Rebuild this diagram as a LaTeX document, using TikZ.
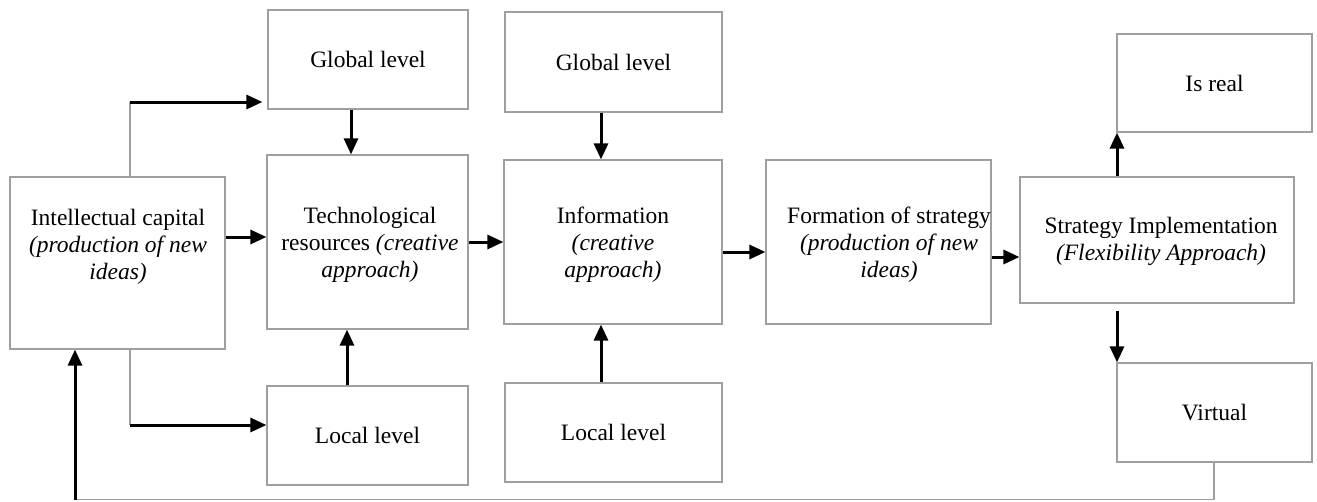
\documentclass[tikz,border=0pt]{standalone}
\usepackage{fontspec}
\setmainfont{Liberation Serif}
\usetikzlibrary{arrows.meta}
\begin{document}
\begin{tikzpicture}[x=1pt,y=-1pt,
  box/.style={draw=gray!75, line width=1.2pt, inner sep=0pt, font=\fontsize{23.5}{27}\selectfont},
  txt/.style={inner sep=0pt, align=center, font=\fontsize{23.5}{27}\selectfont},
  arr/.style={line width=3pt, -{Triangle[length=16pt,width=14pt]}},
  thinline/.style={draw=gray!75, line width=1.2pt}]
\useasboundingbox (0,0) rectangle (1317,501);
% boxes
\node[box, minimum width=215pt, minimum height=172pt] (ic) at (117.5,263) {};
\node[box, minimum width=200pt, minimum height=99pt] (g1) at (368,59.5) {Global level};
\node[box, minimum width=201pt, minimum height=174pt] (tech) at (367.5,242) {};
\node[box, minimum width=201pt, minimum height=99pt] (l1) at (367.5,435.5) {Local level};
\node[box, minimum width=217pt, minimum height=100pt] (g2) at (613.5,62) {Global level};
\node[box, minimum width=218pt, minimum height=164pt] (info) at (613,242) {};
\node[box, minimum width=217pt, minimum height=99pt] (l2) at (613.5,432.5) {Local level};
\node[box, minimum width=225pt, minimum height=164pt] (form) at (878.5,242) {};
\node[box, minimum width=274pt, minimum height=126pt] (si) at (1157,240) {};
\node[box, minimum width=195pt, minimum height=98pt] (real) at (1214.5,83) {Is real};
\node[box, minimum width=195pt, minimum height=99pt] (virt) at (1214.5,412.5) {Virtual};
% texts
\node[txt, anchor=north] (ict) at (118,209) {Intellectual capital\\\textit{(production of new}\\\textit{ideas)}};
\node[txt, anchor=north] (techt) at (370,207) {Technological\\resources \textit{(creative}\\\textit{approach)}};
\node[txt, anchor=north] (infot) at (613,207) {Information\\\textit{(creative}\\\textit{approach)}};
\node[txt, anchor=north] (formt) at (889,207) {Formation of strategy\\\textit{(production of new}\\\textit{ideas)}};
\node[txt, anchor=north] (sit) at (1161,217) {Strategy Implementation\\\textit{(Flexibility Approach)}};
% connectors
\coordinate (c1) at (130,102);
\draw[thinline] (c1 |- ic.north) -- (c1);
\draw[arr] (c1) -- ([xshift=-5pt]c1 -| g1.west);
\coordinate (c2) at (130,425);
\draw[thinline] (c2 |- ic.south) -- (c2);
\draw[arr] (c2) -- (c2 -| l1.west);
\coordinate (a3) at (225,237);
\draw[arr] (ic.east |- a3) -- (a3 -| tech.west);
\coordinate (x1) at (351,0);
\draw[arr] (g1.south -| x1) -- (tech.north -| x1);
\coordinate (x2) at (347,0);
\draw[arr] (l1.north -| x2) -- (tech.south -| x2);
\draw[arr] (tech.east) -- (info.west);
\coordinate (x3) at (601,0);
\draw[arr] (g2.south -| x3) -- (info.north -| x3);
\draw[arr] (l2.north -| x3) -- (info.south -| x3);
\coordinate (a4) at (722,252);
\draw[arr] (info.east |- a4) -- (form.west |- a4);
\coordinate (a5) at (991,257);
\draw[arr] (form.east |- a5) -- (si.west |- a5);
\coordinate (x4) at (1117,0);
\draw[arr] (si.north -| x4) -- (real.south -| x4);
\draw[arr] ([yshift=-7pt]si.south -| x4) -- (virt.north -| x4);
\coordinate (fb1) at (1214,499.5);
\coordinate (fb2) at (75,499.5);
\draw[thinline] (virt.south -| fb1) -- (fb1) -- (fb2);
\draw[arr] (fb2) -- (fb2 |- ic.south);
\end{tikzpicture}
\end{document}
